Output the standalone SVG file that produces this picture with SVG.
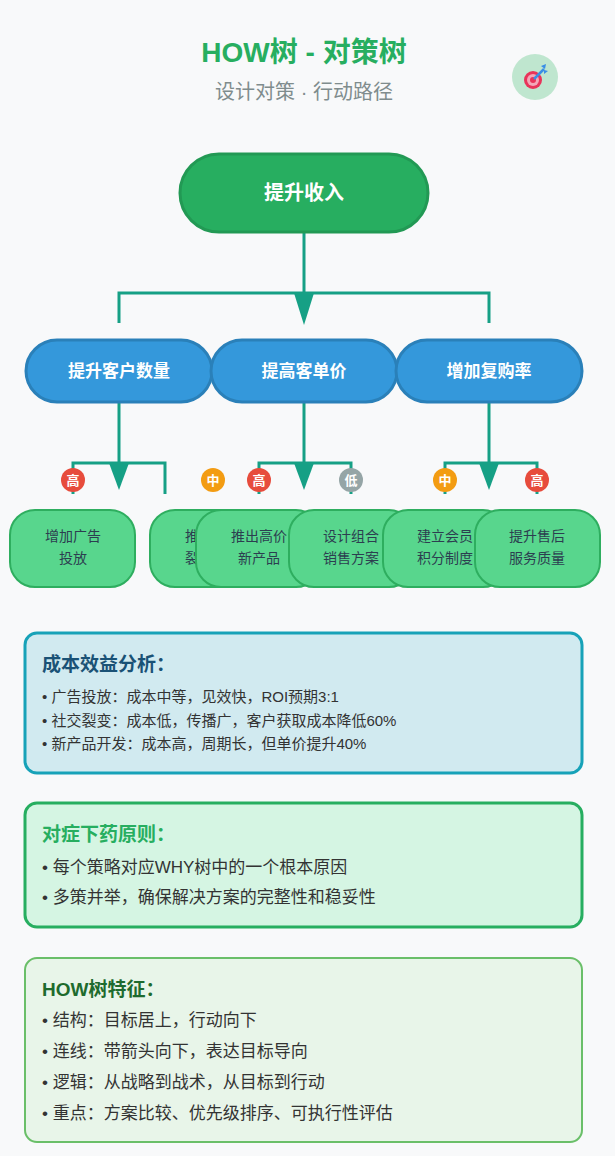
<svg xmlns="http://www.w3.org/2000/svg" width="615" height="1156" viewBox="0 0 615 1156">
<style>
text{font-family:"Liberation Sans","Noto Sans CJK SC",sans-serif}
.ln{stroke:#16a085;stroke-width:3;fill:none}
.ar{fill:#16a085}
.blue rect{fill:#3498db;stroke:#2a80b9;stroke-width:3}
.blue text{fill:#fff;font-size:17px;font-weight:bold;text-anchor:middle}
.leaf rect{fill:#58d68d;stroke:#2eae5f;stroke-width:2}
.leaf text{fill:#2c3e50;font-size:14px;text-anchor:middle}
.bd text{fill:#fff;font-size:13px;font-weight:bold;text-anchor:middle}
.t{font-size:15px;fill:#333}
.t2{font-size:17px;fill:#333}
</style>
<rect width="615" height="1156" fill="#f8f9fa"/>
<text x="304" y="62" font-size="28" font-weight="bold" fill="#27ae60" text-anchor="middle">HOW树 - 对策树</text>
<text x="304" y="99" font-size="20" fill="#7f8c8d" text-anchor="middle">设计对策 · 行动路径</text>
<g id="icon">
<circle cx="535" cy="77" r="23" fill="#bfe6cf"/>
<circle cx="533" cy="80" r="9" fill="#e8335a"/>
<circle cx="533" cy="80" r="6" fill="#f3a6b8"/>
<circle cx="533" cy="80" r="3" fill="#e8335a"/>
<line x1="534" y1="79" x2="544" y2="69" stroke="#3a8ee6" stroke-width="2.5"/>
<path d="M541 66 l5 -2 l-1 5 z M544 70 l4 1 l-4 3 z" fill="#3a8ee6"/>
</g>
<g id="connectors">
<path class="ln" d="M304 232 V295 M119 323 V293 H489 V323"/>
<path class="ar" d="M294 293 L314 293 L304 325 Z"/>
<path class="ln" d="M119 402 V463 M73 494 V463 H165 V494"/>
<path class="ar" d="M109 463 L129 463 L119 490 Z"/>
<path class="ln" d="M304 402 V463 M259 494 V463 H351 V494"/>
<path class="ar" d="M294 463 L314 463 L304 490 Z"/>
<path class="ln" d="M489 402 V463 M445 494 V463 H537 V494"/>
<path class="ar" d="M479 463 L499 463 L489 490 Z"/>
</g>
<g id="root"><rect x="180" y="154" width="248" height="78" rx="39" fill="#27ae60" stroke="#229954" stroke-width="3"/>
<text x="304" y="200" font-size="20" font-weight="bold" fill="#fff" text-anchor="middle">提升收入</text></g>
<g id="n1" class="blue"><rect x="26" y="340" width="186" height="62" rx="31"/><text x="119" y="377">提升客户数量</text></g>
<g id="n2" class="blue"><rect x="211" y="340" width="186" height="62" rx="31"/><text x="304" y="377">提高客单价</text></g>
<g id="n3" class="blue"><rect x="396" y="340" width="186" height="62" rx="31"/><text x="489" y="377">增加复购率</text></g>
<g id="badges" class="bd">
<circle cx="73" cy="480" r="12" fill="#e74c3c"/><text x="73" y="485">高</text>
<circle cx="213" cy="480" r="12" fill="#f39c12"/><text x="213" y="485">中</text>
<circle cx="259" cy="480" r="12" fill="#e74c3c"/><text x="259" y="485">高</text>
<circle cx="351" cy="480" r="12" fill="#95a5a6"/><text x="351" y="485">低</text>
<circle cx="445" cy="480" r="12" fill="#f39c12"/><text x="445" y="485">中</text>
<circle cx="537" cy="480" r="12" fill="#e74c3c"/><text x="537" y="485">高</text>
</g>
<g id="l1" class="leaf"><rect x="10" y="510" width="125" height="77" rx="25"/><text x="73" y="541">增加广告</text><text x="73" y="563">投放</text></g>
<g id="l2" class="leaf"><rect x="150" y="510" width="125" height="77" rx="25"/><text x="213" y="541">推出社交</text><text x="213" y="563">裂变活动</text></g>
<g id="l3" class="leaf"><rect x="196" y="510" width="125" height="77" rx="25"/><text x="259" y="541">推出高价</text><text x="259" y="563">新产品</text></g>
<g id="l4" class="leaf"><rect x="289" y="510" width="125" height="77" rx="25"/><text x="351" y="541">设计组合</text><text x="351" y="563">销售方案</text></g>
<g id="l5" class="leaf"><rect x="383" y="510" width="125" height="77" rx="25"/><text x="445" y="541">建立会员</text><text x="445" y="563">积分制度</text></g>
<g id="l6" class="leaf"><rect x="475" y="510" width="125" height="77" rx="25"/><text x="537" y="541">提升售后</text><text x="537" y="563">服务质量</text></g>
<g id="box1"><rect x="25" y="633" width="557" height="140" rx="12" fill="#d1eaf0" stroke="#17a2b8" stroke-width="3"/>
<text x="42" y="671" font-size="19" font-weight="bold" fill="#1a5276">成本效益分析：</text>
<text class="t" x="42" y="702">• 广告投放：成本中等，见效快，ROI预期3:1</text>
<text class="t" x="42" y="726">• 社交裂变：成本低，传播广，客户获取成本降低60%</text>
<text class="t" x="42" y="749">• 新产品开发：成本高，周期长，但单价提升40%</text></g>
<g id="box2"><rect x="25" y="803" width="557" height="124" rx="12" fill="#d5f5e3" stroke="#27ae60" stroke-width="3"/>
<text x="42" y="841" font-size="19" font-weight="bold" fill="#27ae60">对症下药原则：</text>
<text class="t2" x="42" y="873">• 每个策略对应WHY树中的一个根本原因</text>
<text class="t2" x="42" y="903">• 多策并举，确保解决方案的完整性和稳妥性</text></g>
<g id="box3"><rect x="25" y="958" width="557" height="184" rx="12" fill="#e8f5e9" stroke="#6abf69" stroke-width="2"/>
<text x="42" y="996" font-size="19" font-weight="bold" fill="#1e6b2e">HOW树特征：</text>
<text class="t2" x="42" y="1026">• 结构：目标居上，行动向下</text>
<text class="t2" x="42" y="1057">• 连线：带箭头向下，表达目标导向</text>
<text class="t2" x="42" y="1088">• 逻辑：从战略到战术，从目标到行动</text>
<text class="t2" x="42" y="1119">• 重点：方案比较、优先级排序、可执行性评估</text></g>
</svg>
